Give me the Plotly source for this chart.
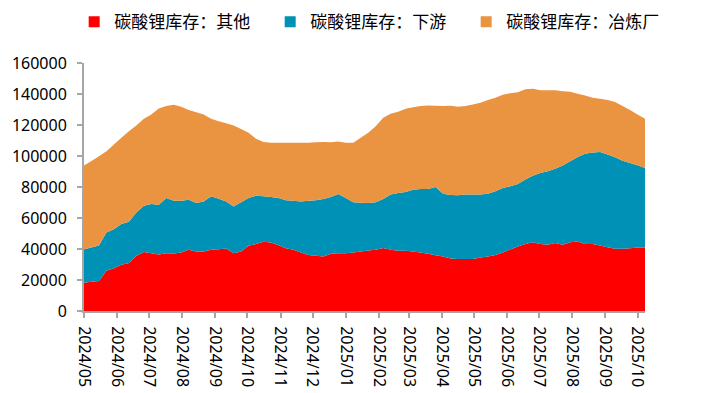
import pandas as pd
import plotly.graph_objects as go

# Weekly observation dates (categories)
dates = pd.date_range("2024-05-01", periods=76, freq="7D")

# 碳酸锂库存：其他
other = [18300, 18800, 19400, 25900, 27600, 29800, 30900, 35600, 38000, 37300,
         36400, 37300, 37100, 37700, 39500, 38400, 38400, 39500, 39900, 40400,
         37300, 38400, 42100, 43300, 44600, 44200, 42500, 40500, 39500, 37700,
         36200, 35600, 35100, 36900, 37300, 37300, 37700, 38400, 39000, 39500,
         40600, 39500, 38800, 38800, 38400, 37700, 36900, 36000, 35100, 33800,
         33600, 33600, 33600, 34500, 35100, 36200, 37700, 39700, 41600, 43300,
         44400, 43300, 42700, 43800, 42700, 44400, 44800, 43300, 43300, 42300,
         41200, 40100, 40100, 40500, 41000, 41000]

# 碳酸锂库存：下游
downstream = [21600, 22200, 22900, 24800, 25200, 26300, 26700, 28000, 29900, 31700,
              32200, 35600, 34100, 33500, 32300, 31300, 32300, 34500, 32600, 30300,
              30200, 31700, 30800, 31100, 29400, 29300, 30400, 30900, 31700, 33000,
              35000, 35800, 37200, 36600, 38200, 35600, 32400, 31500, 30700, 30600,
              31700, 35600, 37400, 38000, 39900, 41000, 41800, 44000, 40600, 41100,
              41000, 41500, 41500, 40600, 40600, 41000, 41700, 40800, 40400, 41500,
              42900, 45800, 47500, 47900, 51100, 52200, 54600, 58200, 59000, 60300,
              59700, 59100, 56900, 55000, 53000, 51300]

# 碳酸锂库存：冶炼厂
smelter = [53900, 55800, 57500, 52400, 54600, 55600, 58400, 56100, 56100, 57800,
           62100, 59300, 61900, 60600, 57800, 58600, 56100, 50000, 50000, 50500,
           52200, 47400, 42100, 36700, 35100, 35000, 35600, 37100, 37300, 37800,
           37300, 37500, 36800, 35400, 33800, 35600, 38400, 41800, 45300, 49100,
           52400, 52200, 52400, 53700, 53200, 53500, 53900, 52400, 56500, 57500,
           57200, 57100, 58200, 59300, 60400, 60400, 60100, 60000, 59200, 58200,
           56100, 53400, 52300, 50800, 47900, 44900, 40800, 37600, 35300, 34400,
           35200, 35600, 35200, 34100, 32800, 31700]

names = ["碳酸锂库存：其他", "碳酸锂库存：下游", "碳酸锂库存：冶炼厂"]
colors = ["#FF0000", "#0091B6", "#EA9340"]
series = [other, downstream, smelter]

y_ticks = [0, 20000, 40000, 60000, 80000, 100000, 120000, 140000, 160000]

fig = go.Figure()
for name, vals, col in zip(names, series, colors):
    fig.add_trace(go.Scatter(
        x=dates, y=vals, name=name, stackgroup="one", mode="none",
        fillcolor=col, line=dict(width=0), showlegend=False,
        hoverinfo="x+y+name",
    ))
# legend entries with square swatches
for name, col in zip(names, colors):
    fig.add_trace(go.Scatter(
        x=[None], y=[None], mode="markers", name=name,
        marker=dict(symbol="square", size=11, color=col),
        showlegend=True,
    ))

axis_col = "#A6A6A6"
fig.update_layout(
    width=710, height=385,
    margin=dict(l=76, r=73, t=55, b=82, autoexpand=False),
    paper_bgcolor="white", plot_bgcolor="white",
    font=dict(family="Noto Sans, Noto Sans CJK SC, sans-serif", size=16, color="#000000"),
    legend=dict(
        orientation="h", x=-0.0175, xanchor="left", y=1.165, yanchor="middle",
        traceorder="normal",
        font=dict(family="Noto Sans CJK SC, sans-serif", size=17, color="#000000"),
        entrywidth=151, itemwidth=30, tracegroupgap=0,
        bgcolor="rgba(0,0,0,0)",
    ),
    xaxis=dict(
        type="date", range=[dates[0], dates[-1]],
        tick0="2024-05-01", dtick="M1", tickformat="%Y/%m",
        tickangle=90, ticks="outside", ticklen=5, tickcolor=axis_col, tickwidth=1.5,
        showline=True, linecolor=axis_col, linewidth=2,
        showgrid=False, zeroline=False, automargin=False,
        ticklabelstandoff=5,
        tickfont=dict(family="Noto Sans, sans-serif", size=16, color="#000000"),
    ),
    yaxis=dict(
        range=[0, 160000], tickvals=y_ticks, ticktext=[str(v) for v in y_ticks],
        ticks="outside", ticklen=5, tickcolor=axis_col, tickwidth=1.5,
        showline=True, linecolor=axis_col, linewidth=2,
        showgrid=False, zeroline=False, automargin=False,
        ticklabelstandoff=7,
        tickfont=dict(family="Noto Sans, sans-serif", size=16, color="#000000"),
    ),
)

fig.write_html("out.html")
